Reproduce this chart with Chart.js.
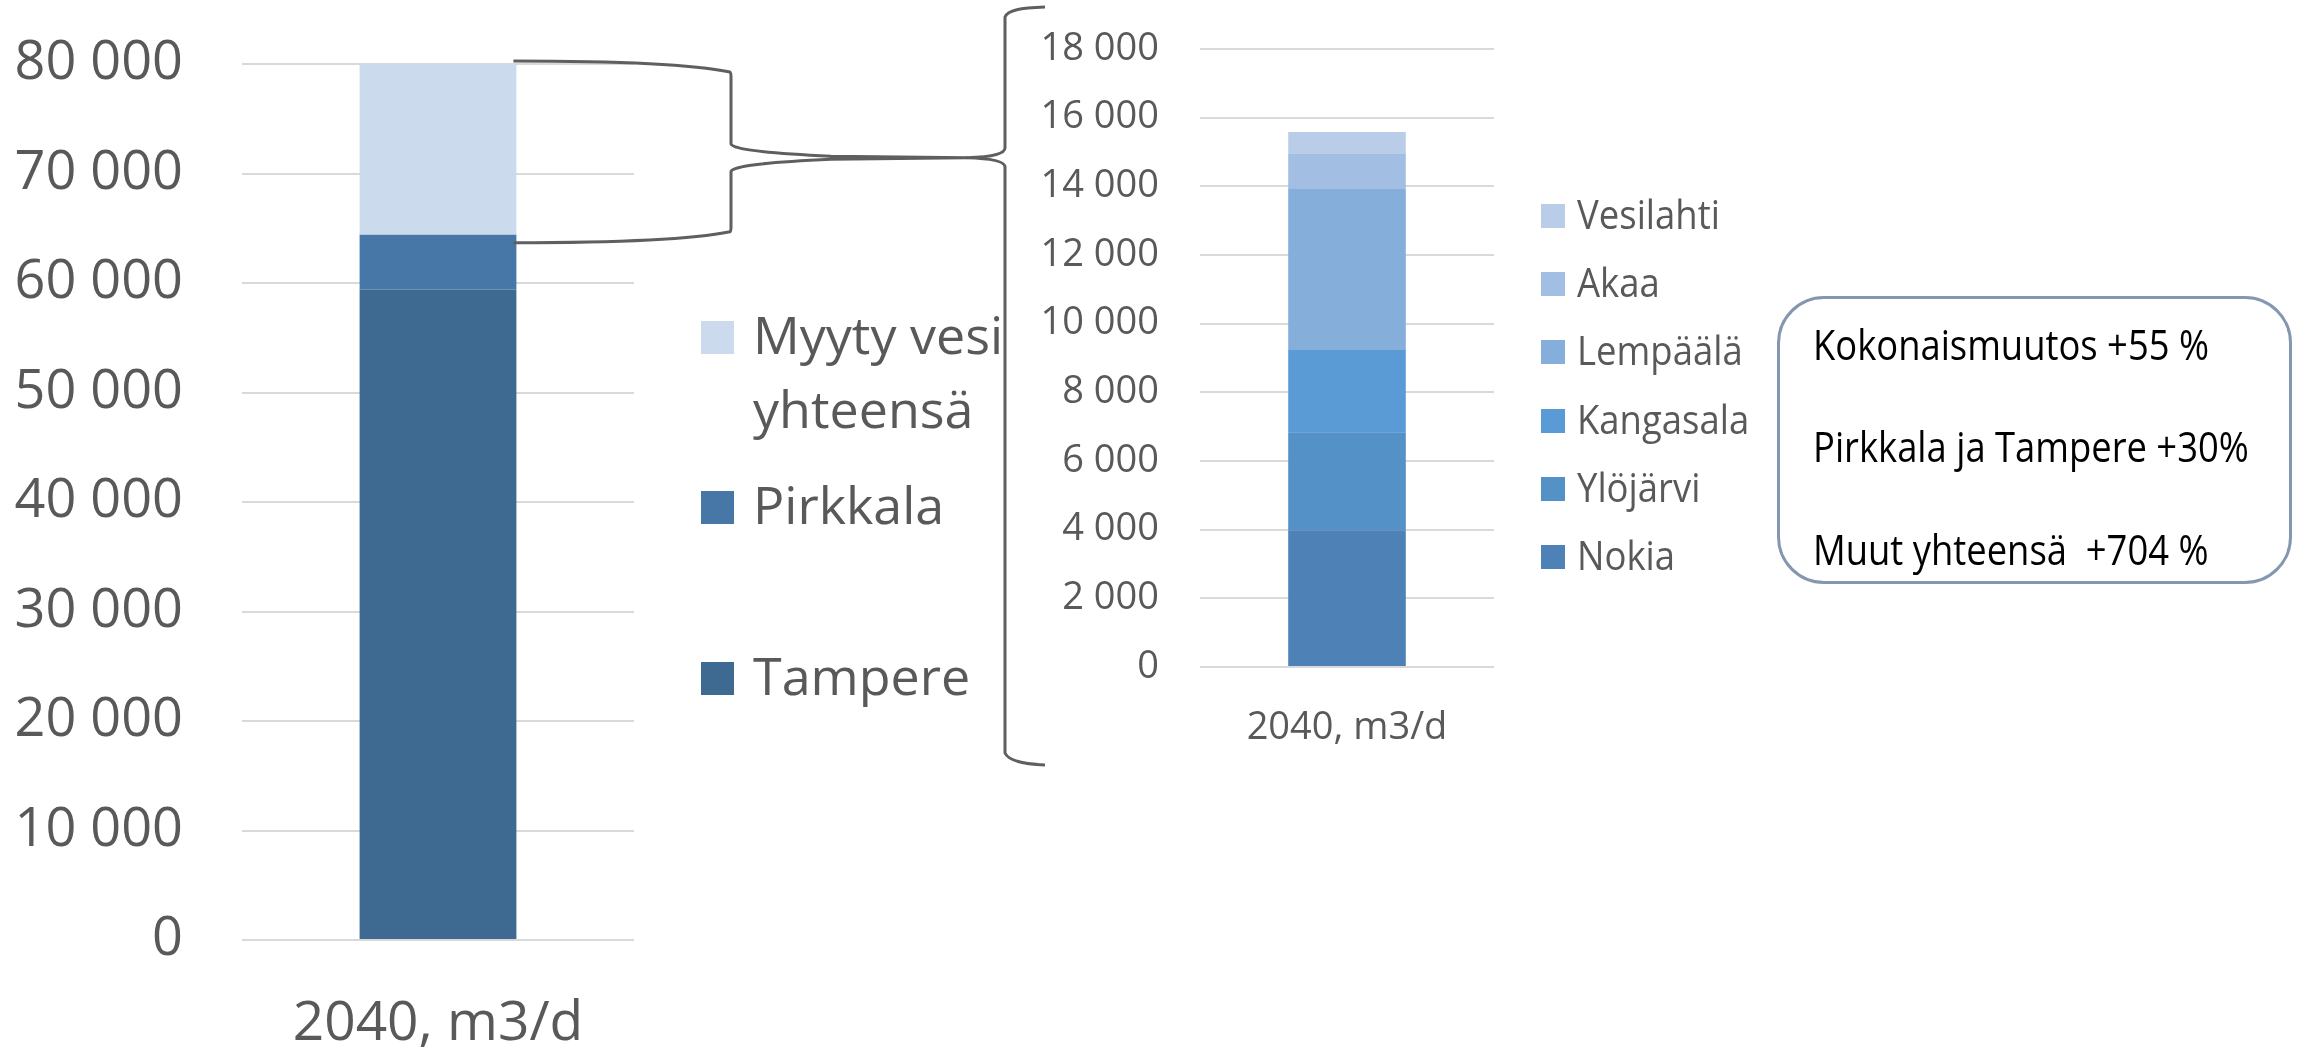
<!DOCTYPE html>
<html lang="fi">
<head>
<meta charset="utf-8">
<script src="https://cdn.jsdelivr.net/npm/chart.js@4.4.1/dist/chart.umd.min.js"></script>
<style>
  html, body { margin: 0; padding: 0; background: #fff; }
  body { width: 2305px; height: 1047px; position: relative; overflow: hidden; font-family: 'Open Sans', sans-serif; }
  canvas { position: absolute; top: 0; }
  #vasen { left: 0; }
  #oikea { left: 1000px; }
  .ruutu { position: absolute; }
  .teksti { position: absolute; color: #595959; }
  #laatikko { position: absolute; left: 1777px; top: 296px; width: 515px; height: 288px; box-sizing: border-box;
              border: 3px solid #8497b0; border-radius: 47px; }
  .rivi { position: absolute; left: 1813px; font-size: 42px; line-height: 42px; color: #000; white-space: pre;
          transform: scaleX(0.866); transform-origin: left; }
  svg { position: absolute; left: 0; top: 0; pointer-events: none; }
</style>
</head>
<body>
<canvas id="vasen" width="660" height="1047"></canvas>
<canvas id="oikea" width="520" height="780"></canvas>
<div id="laatikko"></div>
<svg id="sulut" width="2305" height="1047"></svg>

<script>
// myyty vesi 2040, m3/d
const kategoriat = ['2040, m3/d'];

// vasen kaavio
const tampere = [59400];
const pirkkala = [5000];
const myytyVesi = [15600];
const vasenAsteikko = [0, 10000, 20000, 30000, 40000, 50000, 60000, 70000, 80000];

// oikea kaavio (muut kunnat)
const nokia = [3980];
const ylojarvi = [2860];
const kangasala = [2390];
const lempaala = [4690];
const akaa = [1020];
const vesilahti = [640];
const oikeaAsteikko = [0, 2000, 4000, 6000, 8000, 10000, 12000, 14000, 16000, 18000];

const yhteenveto = ['Kokonaismuutos +55 %', 'Pirkkala ja Tampere +30%', 'Muut yhteensä  +704 %'];

const harmaa = '#595959';

function muotoile(v) {
    return String(v).replace(/\B(?=(\d{3})+(?!\d))/g, ' ');
}

function asetukset(asteikko, tikkiKoko, xKoko, yLeveys, yPadding, xKorkeus, xPadding, ylaPadding) {
    return {
        responsive: false,
        animation: false,
        layout: { padding: { top: ylaPadding, right: 26, left: 0, bottom: 0 } },
        plugins: { legend: { display: false }, tooltip: { enabled: false } },
        scales: {
            x: {
                stacked: true,
                grid: { display: false },
                border: { display: false },
                ticks: { color: harmaa, font: { family: 'Open Sans', size: xKoko }, padding: xPadding },
                afterFit: s => { s.height = xKorkeus; s.paddingLeft = 0; s.paddingRight = 0; }
            },
            y: {
                stacked: true,
                min: asteikko[0],
                max: asteikko[asteikko.length - 1],
                afterBuildTicks: s => { s.ticks = asteikko.map(v => ({ value: v })); },
                grid: { color: '#d9d9d9', lineWidth: 2, drawTicks: false },
                border: { display: false },
                ticks: { color: harmaa, font: { family: 'Open Sans', size: tikkiKoko }, padding: yPadding, callback: v => muotoile(v) },
                // kaavioalue alkaa suoraan layout-paddingin kohdalta
                afterFit: s => { s.width = yLeveys; s.paddingTop = 0; s.paddingBottom = 0; }
            }
        }
    };
}

const vasenKaavio = new Chart(document.getElementById('vasen'), {
    type: 'bar',
    data: {
        labels: kategoriat,
        datasets: [
            { label: 'Tampere', data: tampere, backgroundColor: '#3e6a92' },
            { label: 'Pirkkala', data: pirkkala, backgroundColor: '#4677a6' },
            { label: 'Myyty vesi yhteensä', data: myytyVesi, backgroundColor: '#cbdaec' }
        ].map(d => Object.assign(d, { barPercentage: 0.4, categoryPercentage: 1 }))
    },
    options: asetukset(vasenAsteikko, 54, 55, 242, 59, 107, 43, 64)
});

const oikeaKaavio = new Chart(document.getElementById('oikea'), {
    type: 'bar',
    data: {
        labels: kategoriat,
        datasets: [
            { label: 'Nokia', data: nokia, backgroundColor: '#4e82b6' },
            { label: 'Ylöjärvi', data: ylojarvi, backgroundColor: '#5491c7' },
            { label: 'Kangasala', data: kangasala, backgroundColor: '#5b9bd5' },
            { label: 'Lempäälä', data: lempaala, backgroundColor: '#85aedb' },
            { label: 'Akaa', data: akaa, backgroundColor: '#a2bee2' },
            { label: 'Vesilahti', data: vesilahti, backgroundColor: '#b9cde8' }
        ].map(d => Object.assign(d, { barPercentage: 0.4, categoryPercentage: 1 }))
    },
    options: asetukset(oikeaAsteikko, 38, 38, 200, 41, 113, 30, 49)
});

// selitteet html:nä, ylin pino ensin
function lisaa(tag, luokka, tyyli, teksti) {
    const el = document.createElement(tag);
    el.className = luokka;
    Object.assign(el.style, tyyli);
    if (teksti) el.textContent = teksti;
    document.body.appendChild(el);
    return el;
}

const vasenRivit = [321, 491, 662];
vasenKaavio.data.datasets.slice().reverse().forEach((d, i) => {
    lisaa('div', 'ruutu', { left: '701px', top: vasenRivit[i] + 'px', width: '33px', height: '33px', background: d.backgroundColor });
    lisaa('div', 'teksti', { left: '753px', top: (vasenRivit[i] - 24) + 'px', width: '268px', fontSize: '52px', lineHeight: '74px' }, d.label);
});

oikeaKaavio.data.datasets.slice().reverse().forEach((d, i) => {
    const keski = 216 + i * 68.2;
    lisaa('div', 'ruutu', { left: '1541px', top: (keski - 12) + 'px', width: '24px', height: '24px', background: d.backgroundColor });
    lisaa('div', 'teksti', { left: '1577px', top: (keski - 23) + 'px', fontSize: '41px', lineHeight: '41px', whiteSpace: 'nowrap',
        transform: 'scaleX(0.89)', transformOrigin: 'left' }, d.label);
});

yhteenveto.forEach((t, i) => {
    lisaa('div', 'rivi', { top: (322.7 + i * 102.5) + 'px' }, t);
});

// aaltosulkeet: pieni sulje vasemman pylvään yläosasta, iso sulje oikean kaavion ympärille
const ylin = vasenKaavio.getDatasetMeta(2).data[0];
const pirkkalaPala = vasenKaavio.getDatasetMeta(1).data[0];
const x0 = ylin.x + ylin.width / 2 - 3;
const yT = ylin.y - 3;
const yB = pirkkalaPala.y + 8;
const xv = 731, xk = 967, yk = 157.7;

const pieni = `M ${x0} ${yT} C ${x0 + 120} ${yT}, ${xv - 30} ${yT + 5}, ${xv - 1} ${yT + 11}
  Q ${xv} ${yT + 12}, ${xv} ${yT + 15} L ${xv} ${yk - 14}
  C ${xv} ${yk - 10}, ${xv + 20} ${yk - 5}, ${xv + 100} ${yk - 1.5} L ${xk} ${yk}
  L ${xv + 100} ${yk + 1.5} C ${xv + 20} ${yk + 5}, ${xv} ${yk + 10}, ${xv} ${yk + 14}
  L ${xv} ${yB - 15} Q ${xv} ${yB - 12}, ${xv - 1} ${yB - 11}
  C ${xv - 30} ${yB - 5}, ${x0 + 120} ${yB}, ${x0} ${yB}`;

const iso = `M 1045 7 C 1020 8, 1008 10, 1005 17 L 1005 148 C 1005 153, 995 157, ${xk} ${yk}
  C 995 158.5, 1005 162, 1005 167 L 1005 753 C 1008 760, 1020 764, 1045 765`;

document.getElementById('sulut').innerHTML =
    `<path d="${pieni}" fill="none" stroke="#5f5f5f" stroke-width="3" stroke-linejoin="round"/>` +
    `<path d="${iso}" fill="none" stroke="#5f5f5f" stroke-width="3" stroke-linejoin="round"/>`;
</script>
</body>
</html>
